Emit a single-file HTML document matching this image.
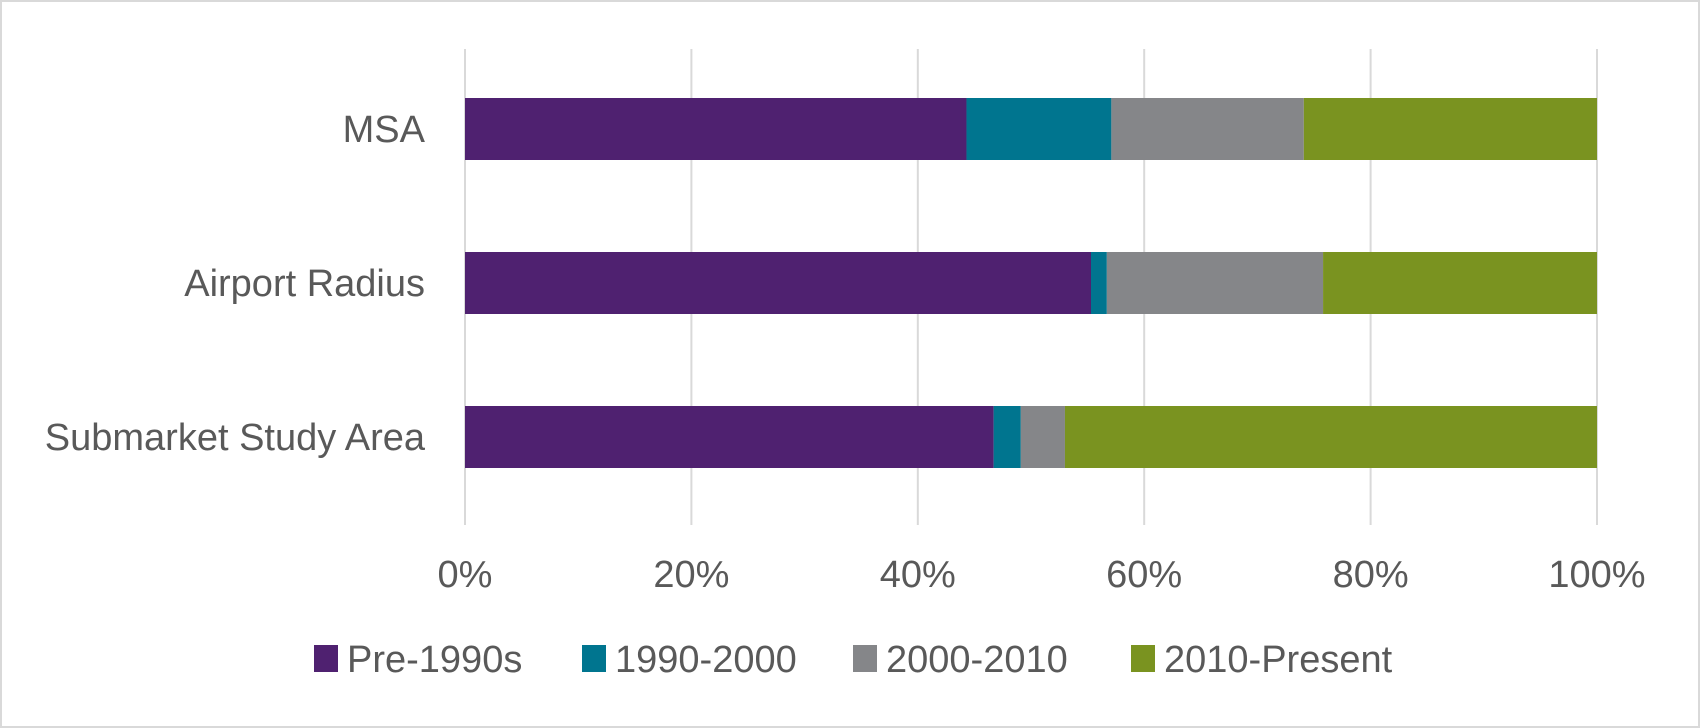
<!DOCTYPE html>
<html><head><meta charset="utf-8"><style>
html,body{margin:0;padding:0;background:#fff;}
svg{display:block;font-family:"Liberation Sans",sans-serif;}
</style></head><body>
<svg id="chart" width="1700" height="728">
<rect x="1" y="1" width="1698" height="726" fill="#fff" stroke="#d9d9d9" stroke-width="2"/>
<g id="grid"></g><g id="bars"></g><g id="labels"></g><g id="legend"></g>
</svg>
<script>
const categories = ["MSA", "Airport Radius", "Submarket Study Area"];
const seriesNames = ["Pre-1990s", "1990-2000", "2000-2010", "2010-Present"];
const pre1990 = [44.3, 55.3, 46.7];
const s1990 = [12.8, 1.4, 2.4];
const s2000 = [17.0, 19.1, 3.9];
const s2010 = [25.9, 24.2, 47.0];
const ticks = [0, 20, 40, 60, 80, 100];
const tickLabels = ["0%", "20%", "40%", "60%", "80%", "100%"];
const colors = ["#4f2170", "#00758f", "#858689", "#7a9320"];
const series = [pre1990, s1990, s2000, s2010];

const NS = "http://www.w3.org/2000/svg";
const X0 = 465, X1 = 1597, YT = 49, YB = 525;
const x = v => X0 + (X1 - X0) * v / 100;
const bandH = 154;
const y = i => 52 + bandH * i + bandH / 2;
const barH = 62;
const FS = 38;
function mk(tag, attrs, parent) {
  const e = document.createElementNS(NS, tag);
  for (const k in attrs) e.setAttribute(k, attrs[k]);
  parent.appendChild(e); return e;
}
const grid = document.getElementById('grid'), bars = document.getElementById('bars'),
      labels = document.getElementById('labels'), legend = document.getElementById('legend');
ticks.forEach((t, i) => {
  const l = mk('line', {x1: x(t), x2: x(t), y1: YT, y2: YB, stroke: '#d9d9d9', 'stroke-width': 2}, grid);
  
  
  const tx = mk('text', {x: x(t), y: 587, 'text-anchor': 'middle', 'font-size': FS, fill: '#595959'}, labels);
  tx.textContent = tickLabels[i];
  
  
});
categories.forEach((c, i) => {
  let acc = 0;
  series.forEach((s, j) => {
    const r = mk('rect', {x: x(acc), y: y(i) - barH / 2, width: x(acc + s[i]) - x(acc), height: barH, fill: colors[j]}, bars);
    
    
    acc += s[i];
  });
  const t = mk('text', {x: 425, y: y(i) + 13, 'text-anchor': 'end', 'font-size': FS, fill: '#595959'}, labels);
  t.textContent = c;
  
  
});
const legX = [314, 582, 853, 1131];
seriesNames.forEach((n, j) => {
  const r = mk('rect', {x: legX[j], y: 645, width: 24, height: 27, fill: colors[j]}, legend);
  
  
  const t = mk('text', {x: legX[j] + 33, y: 672, 'font-size': FS, fill: '#595959'}, legend);
  t.textContent = n;
  
  
});
</script>
</body></html>
